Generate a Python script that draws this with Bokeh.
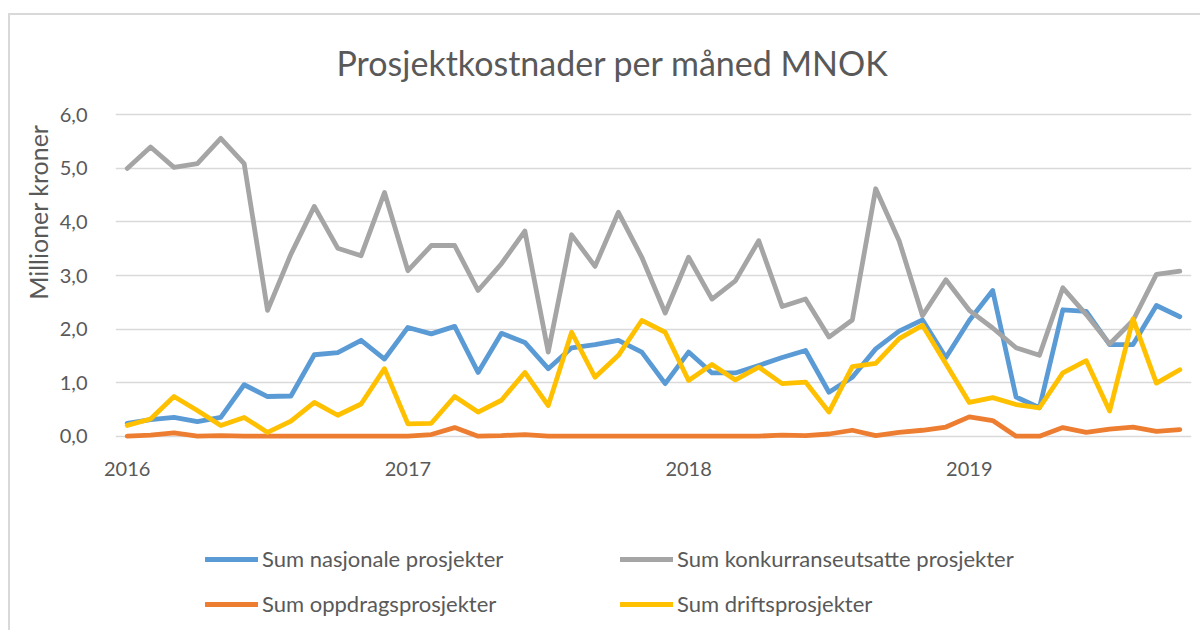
from bokeh.plotting import figure
from bokeh.layouts import column
from bokeh.models import (Range1d, FixedTicker, CustomJSTickFormatter, Title,
                          Legend, LegendItem, ColumnDataSource)
from bokeh.embed import file_html
from bokeh.resources import INLINE

# ---- data (monthly, Jan 2016 .. Oct 2019), MNOK ----
months = list(range(46))
year_ticks = [0, 12, 24, 36]
year_labels = ["2016", "2017", "2018", "2019"]

nasjonale = [0.24, 0.31, 0.35, 0.27, 0.35, 0.96, 0.74, 0.75, 1.52, 1.56, 1.79, 1.44,
             2.03, 1.91, 2.05, 1.19, 1.92, 1.75, 1.26, 1.65, 1.71, 1.79, 1.57, 0.98,
             1.57, 1.18, 1.18, 1.32, 1.47, 1.60, 0.82, 1.10, 1.63, 1.96, 2.17, 1.47,
             2.16, 2.72, 0.73, 0.53, 2.36, 2.33, 1.71, 1.71, 2.44, 2.23]
konkurranse = [5.00, 5.40, 5.02, 5.09, 5.56, 5.09, 2.35, 3.40, 4.29, 3.51, 3.37, 4.55,
               3.09, 3.56, 3.56, 2.72, 3.22, 3.83, 1.57, 3.76, 3.17, 4.18, 3.34, 2.30,
               3.34, 2.56, 2.90, 3.65, 2.42, 2.56, 1.85, 2.17, 4.62, 3.65, 2.25, 2.92,
               2.35, 2.02, 1.65, 1.51, 2.77, 2.27, 1.72, 2.16, 3.02, 3.08]
oppdrag = [0.00, 0.02, 0.06, 0.00, 0.01, 0.00, 0.00, 0.00, 0.00, 0.00, 0.00, 0.00,
           0.00, 0.03, 0.16, 0.00, 0.01, 0.03, 0.00, 0.00, 0.00, 0.00, 0.00, 0.00,
           0.00, 0.00, 0.00, 0.00, 0.02, 0.01, 0.04, 0.11, 0.01, 0.07, 0.11, 0.17,
           0.36, 0.29, 0.00, 0.00, 0.16, 0.07, 0.13, 0.17, 0.09, 0.12]
drift = [0.20, 0.32, 0.74, 0.48, 0.20, 0.35, 0.07, 0.28, 0.63, 0.39, 0.60, 1.26,
         0.23, 0.24, 0.74, 0.45, 0.67, 1.19, 0.57, 1.94, 1.10, 1.51, 2.16, 1.94,
         1.04, 1.34, 1.05, 1.29, 0.98, 1.01, 0.45, 1.30, 1.36, 1.82, 2.07, 1.35,
         0.63, 0.72, 0.59, 0.53, 1.18, 1.41, 0.47, 2.19, 0.99, 1.24]

series_names = ["Sum nasjonale prosjekter", "Sum konkurranseutsatte prosjekter",
                "Sum oppdragsprosjekter", "Sum driftsprosjekter"]
series_values = [nasjonale, konkurranse, oppdrag, drift]
series_colors = ["#5B9BD5", "#A5A5A5", "#ED7D31", "#FFC000"]

title_text = "Prosjektkostnader per måned MNOK"
y_title = "Millioner kroner"

FONT = "Lato"
TXT = "#595959"

p = figure(width=1190, height=509, output_backend="svg", toolbar_location=None,
           x_range=Range1d(-0.5, 45.5), y_range=Range1d(-0.1, 6.1),
           min_border_left=105, min_border_right=9, min_border_top=103,
           min_border_bottom=74)
p.styles = {"margin-top": "-9px"}
p.outline_line_color = None
p.background_fill_color = "white"
p.border_fill_color = None

# title
p.add_layout(Title(text=title_text, align="left", offset=221, standoff=54,
                   text_font=FONT, text_font_size="34px", text_font_style="normal",
                   text_color=TXT), "above")
# y-axis title
p.add_layout(Title(text=y_title, align="right", offset=15, standoff=8,
                   text_font=FONT, text_font_size="25px", text_font_style="normal",
                   text_color=TXT), "left")

# axes
p.xaxis.ticker = FixedTicker(ticks=year_ticks)
p.xaxis.major_label_overrides = {t: l for t, l in zip(year_ticks, year_labels)}
p.xaxis.axis_line_color = None
p.xaxis.major_tick_line_color = None
p.xaxis.minor_tick_line_color = None
p.xaxis.major_label_standoff = 14
p.xaxis.major_label_text_font = FONT
p.xaxis.major_label_text_font_size = "20px"
p.xaxis.major_label_text_color = TXT

p.yaxis.ticker = FixedTicker(ticks=[0, 1, 2, 3, 4, 5, 6])
p.yaxis.formatter = CustomJSTickFormatter(code="return tick.toFixed(1).replace('.', ',');")
p.yaxis.axis_line_color = None
p.yaxis.major_tick_line_color = None
p.yaxis.minor_tick_line_color = None
p.yaxis.major_label_standoff = 22
p.yaxis.major_label_text_font = FONT
p.yaxis.major_label_text_font_size = "20px"
p.yaxis.major_label_text_color = TXT

p.xgrid.grid_line_color = None
p.ygrid.ticker = FixedTicker(ticks=[0, 1, 2, 3, 4, 5, 6])
p.ygrid.grid_line_color = "#d9d9d9"
p.ygrid.grid_line_width = 1.5

sources = []
for name, vals, col in zip(series_names, series_values, series_colors):
    src = ColumnDataSource(dict(x=months, y=vals))
    sources.append(src)
    p.line("x", "y", source=src, line_color=col, line_width=4.8,
           line_join="round", line_cap="round")

# legend panel (separate figure below the chart); its lines use the same data
# but lie outside its (empty) view range, so only the legend glyphs show
lf = figure(width=1190, height=115, output_backend="svg", toolbar_location=None,
            x_range=Range1d(-100, -99), y_range=Range1d(-100, -99),
            x_axis_type=None, y_axis_type=None,
            min_border_left=105, min_border_right=9, min_border_top=0, min_border_bottom=0)
lf.outline_line_color = None
lf.xgrid.grid_line_color = None
lf.ygrid.grid_line_color = None
lf.border_fill_color = "white"

proxies = []
for src, col in zip(sources, series_colors):
    proxies.append(lf.line("x", "y", source=src, line_color=col, line_width=4.8,
                           line_cap="round"))

positions = [(90, 58), (505, 58), (90, 13), (505, 13)]
for (lx, ly), name, r in zip(positions, series_names, proxies):
    lg = Legend(items=[LegendItem(label=name, renderers=[r])], location=(lx, ly),
                glyph_width=53, glyph_height=24, label_standoff=4, padding=0, margin=0,
                label_height=24, border_line_color=None, background_fill_alpha=0,
                label_text_font=FONT, label_text_font_size="22px",
                label_text_color=TXT)
    lf.add_layout(lg, "center")

layout = column(p, lf, spacing=0,
                styles={"border-top": "2px solid #d9d9d9",
                        "border-left": "2px solid #d9d9d9",
                        "margin-top": "13px", "margin-left": "8px"})

open("out.html", "w").write(file_html(layout, INLINE))
